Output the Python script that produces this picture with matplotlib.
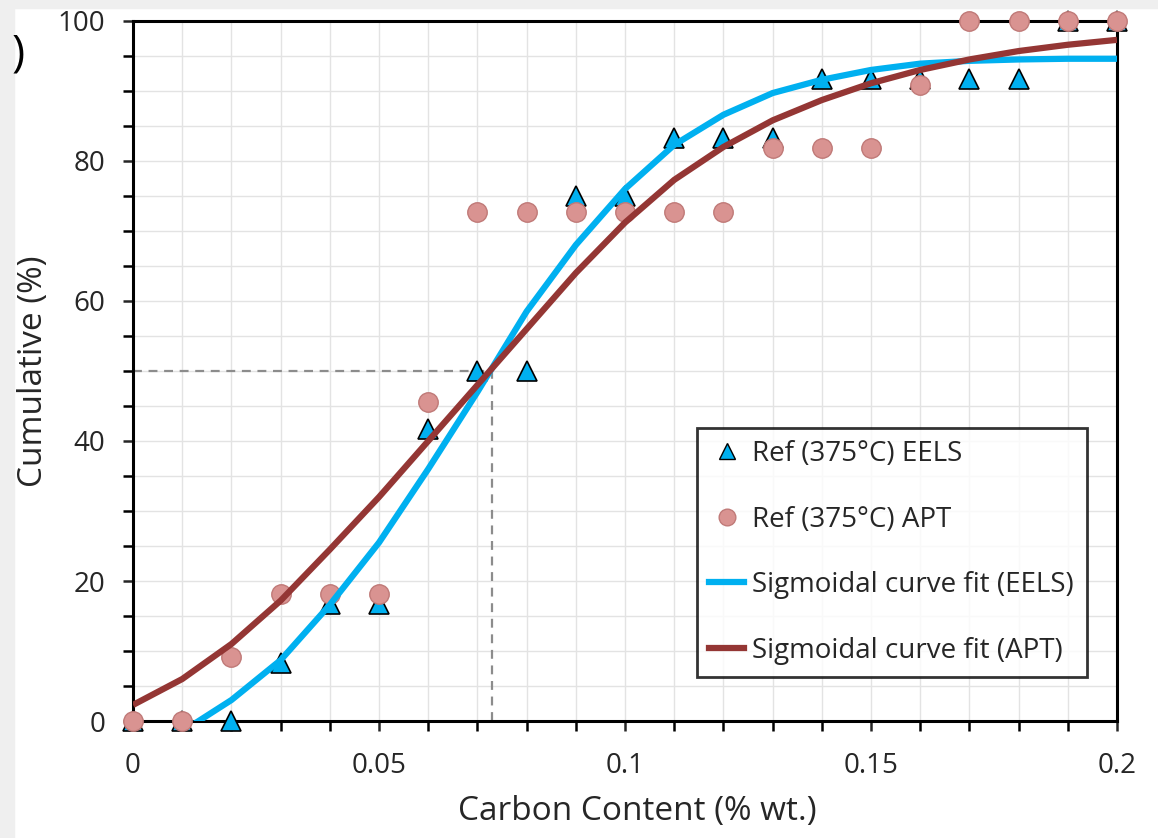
import matplotlib.pyplot as plt
from matplotlib.lines import Line2D
from matplotlib.patches import Rectangle

plt.rcParams["font.family"] = ["Open Sans", "DejaVu Sans"]

# measured points (carbon content, cumulative %)
carbon = [0.00, 0.01, 0.02, 0.03, 0.04, 0.05, 0.06, 0.07, 0.08, 0.09, 0.10,
          0.11, 0.12, 0.13, 0.14, 0.15, 0.16, 0.17, 0.18, 0.19, 0.20]
eels_pts = [0, 0, 0, 8.3, 16.7, 16.7, 41.7, 50, 50, 75, 75,
            83.3, 83.3, 83.3, 91.7, 91.7, 91.7, 91.7, 91.7, 100, 100]
apt_pts = [0, 0, 9.1, 18.2, 18.2, 18.2, 45.5, 72.7, 72.7, 72.7, 72.7,
           72.7, 72.7, 81.8, 81.8, 81.8, 90.9, 100, 100, 100, 100]

# sigmoidal fits
eels_fit = [-6, -1.5, 3, 8.7, 16.6, 25.5, 36, 47, 58.5, 68, 76,
            82.3, 86.6, 89.7, 91.6, 93, 93.9, 94.3, 94.5, 94.6, 94.6]
apt_fit = [2.3, 6, 11, 17.2, 24.5, 32, 40, 48, 56, 64, 71.2,
           77.3, 82, 85.8, 88.7, 91.1, 93.0, 94.5, 95.7, 96.6, 97.3]

x_half = 0.073
y_half = 50

BLUE = "#00b0f0"
BROWN = "#943634"
PINK = "#d99391"
TEXT = "#262626"

fig = plt.figure(figsize=(11.58, 8.38), dpi=100)
fig.patches.append(Rectangle((0, 0.99), 1, 0.01, transform=fig.transFigure,
                             color="#efefef", zorder=0))
fig.patches.append(Rectangle((0, 0), 0.012, 1, transform=fig.transFigure,
                             color="#efefef", zorder=0))
fig.text(0.010, 0.935, ")", fontsize=32, ha="left", va="center")

ax = fig.add_axes([0.1149, 0.1396, 0.8497, 0.8354])

ax.plot([0, x_half], [y_half, y_half], ls=(0, (4, 3)), color="#8c8c8c", lw=1.6, zorder=2)
ax.plot([x_half, x_half], [0, y_half], ls=(0, (4, 3)), color="#8c8c8c", lw=1.6, zorder=2)

ax.plot(carbon, eels_pts, ls="none", marker="^", ms=15, mfc=BLUE, mec="black",
        mew=1.2, zorder=3, clip_on=False)
ax.plot(carbon, apt_pts, ls="none", marker="o", ms=14, mfc=PINK, mec="#c07a78",
        mew=1.0, zorder=4, clip_on=False)
ax.plot(carbon, eels_fit, color=BLUE, lw=4.5, zorder=5, solid_capstyle="butt")
ax.plot(carbon, apt_fit, color=BROWN, lw=4.5, zorder=6, solid_capstyle="butt")

ax.set_xlim(0, 0.2)
ax.set_ylim(0, 100)
ax.set_xticks([0, 0.05, 0.1, 0.15, 0.2])
ax.set_xticklabels(["0", "0.05", "0.1", "0.15", "0.2"])
ax.set_xticks([i * 0.01 for i in range(21)], minor=True)
ax.set_yticks(range(0, 101, 20))
ax.set_yticks(range(0, 101, 5), minor=True)
ax.grid(True, which="both", color="#e3e3e3", lw=1.0, zorder=0)
ax.set_axisbelow(True)

for sp in ax.spines.values():
    sp.set_linewidth(2.2)
    sp.set_color("black")
ax.tick_params(which="both", direction="out", length=7, width=1.8, color="black")
ax.tick_params(axis="both", which="major", labelsize=20, colors=TEXT)
ax.tick_params(axis="y", which="major", pad=13)
ax.tick_params(axis="x", which="major", pad=15)

ax.set_xlabel("Carbon Content (% wt.)", fontsize=24, color=TEXT)
ax.set_ylabel("Cumulative (%)", fontsize=24, color=TEXT)
ax.xaxis.set_label_coords(0.512, -0.106)
ax.yaxis.set_label_coords(-0.084, 0.5)

handles = [
    Line2D([], [], ls="none", marker="^", ms=12, mfc=BLUE, mec="black", mew=1.0),
    Line2D([], [], ls="none", marker="o", ms=12, mfc=PINK, mec="#c07a78", mew=1.0),
    Line2D([], [], color=BLUE, lw=4.5),
    Line2D([], [], color=BROWN, lw=4.5),
]
labels = ["Ref (375°C) EELS", "Ref (375°C) APT",
          "Sigmoidal curve fit (EELS)", "Sigmoidal curve fit (APT)"]
leg = ax.legend(handles, labels, loc="upper left", bbox_to_anchor=(0.573, 0.419),
                fontsize=20, frameon=True, fancybox=False, edgecolor="black",
                handlelength=1.25, handletextpad=0.3, labelspacing=1.35,
                borderpad=0.45, borderaxespad=0, labelcolor=TEXT)
leg.get_frame().set_linewidth(2.0)
leg.set_zorder(10)

fig.savefig("out.png", dpi=100)
